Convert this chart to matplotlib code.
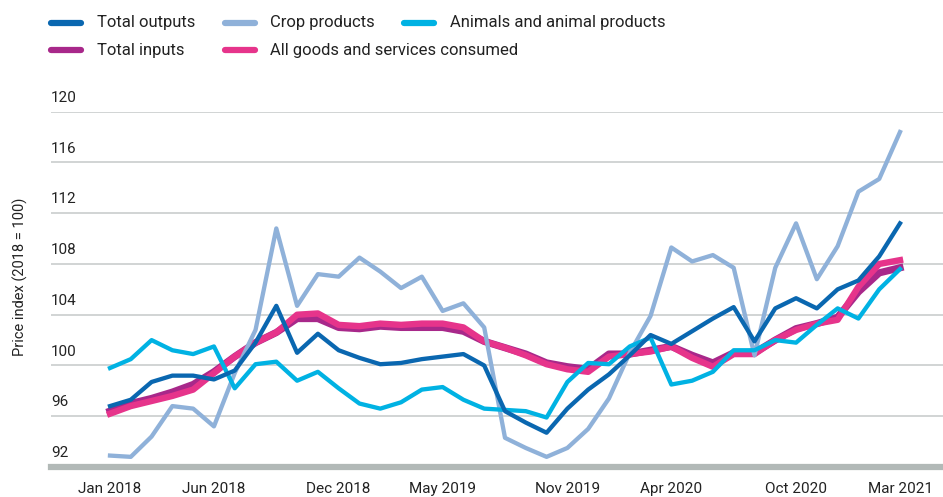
import matplotlib.pyplot as plt
import matplotlib.transforms as mtransforms
from matplotlib.lines import Line2D

plt.rcParams["font.family"] = ["Roboto", "DejaVu Sans"]

# monthly, Jan 2018 .. Mar 2021
n_months = 39
tick_idx = [0, 5, 11, 16, 22, 27, 33, 38]
tick_labels = ["Jan 2018", "Jun 2018", "Dec 2018", "May 2019",
               "Nov 2019", "Apr 2020", "Oct 2020", "Mar 2021"]

total_outputs = [96.8, 97.3, 98.7, 99.2, 99.2, 98.9, 99.6, 101.8, 104.7, 101.0,
                 102.5, 101.2, 100.6, 100.1, 100.2, 100.5, 100.7, 100.9, 100.0, 96.4,
                 95.5, 94.7, 96.6, 98.1, 99.3, 100.8, 102.4, 101.7, 102.7, 103.7,
                 104.6, 101.9, 104.5, 105.3, 104.5, 106.0, 106.7, 108.6, 111.2]
crop_products = [92.9, 92.8, 94.4, 96.8, 96.6, 95.2, 99.4, 102.8, 110.8, 104.7,
                 107.2, 107.0, 108.5, 107.4, 106.1, 107.0, 104.3, 104.9, 103.0, 94.3,
                 93.5, 92.8, 93.5, 95.0, 97.4, 101.0, 103.9, 109.3, 108.2, 108.7,
                 107.7, 100.8, 107.7, 111.2, 106.8, 109.4, 113.7, 114.7, 118.4]
animals = [99.8, 100.5, 102.0, 101.2, 100.9, 101.5, 98.2, 100.1, 100.3, 98.8,
           99.5, 98.2, 97.0, 96.6, 97.1, 98.1, 98.3, 97.3, 96.6, 96.5,
           96.4, 95.9, 98.7, 100.2, 100.1, 101.5, 102.2, 98.5, 98.8, 99.5,
           101.2, 101.2, 102.0, 101.8, 103.2, 104.5, 103.7, 106.0, 107.6]
total_inputs = [96.4, 97.0, 97.4, 97.9, 98.5, 99.5, 100.7, 101.8, 102.6, 103.7,
                103.7, 103.0, 102.9, 103.1, 103.0, 103.0, 103.0, 102.7, 101.9, 101.4,
                100.9, 100.2, 99.9, 99.7, 100.9, 100.9, 101.2, 101.5, 100.8, 100.2,
                101.0, 101.0, 102.0, 102.9, 103.3, 103.8, 105.8, 107.3, 107.7]
all_goods = [96.2, 96.8, 97.2, 97.6, 98.1, 99.4, 100.7, 101.8, 102.6, 104.0,
             104.1, 103.2, 103.1, 103.3, 103.2, 103.3, 103.3, 103.0, 101.9, 101.4,
             100.8, 100.1, 99.7, 99.5, 100.7, 100.9, 101.1, 101.5, 100.6, 99.9,
             100.9, 100.9, 102.0, 102.8, 103.3, 103.6, 106.2, 108.0, 108.3]

C_OUT = "#0a67b0"
C_CROP = "#8fb1d9"
C_ANIM = "#00b2e3"
C_INP = "#a8288a"
C_ALL = "#e6348b"

fig = plt.figure(figsize=(9.43, 4.97), dpi=100)
ax = fig.add_axes([51 / 943, 1 - 467 / 497, 892 / 943, (467 - 111.7) / 497])

x = list(range(n_months))
ax.plot(x, total_inputs, color=C_INP, lw=5.2, zorder=3)
ax.plot(x, all_goods, color=C_ALL, lw=4.6, zorder=3.1)
ax.plot(x, crop_products, color=C_CROP, lw=3.1, zorder=4)
ax.plot(x, animals, color=C_ANIM, lw=3.1, zorder=4.1)
ax.plot(x, total_outputs, color=C_OUT, lw=3.1, zorder=4.2)

px = 20.79
ax.set_xlim(-(110 - 51) / px, 38 + (943 - 900) / px)
ax.set_ylim(92, 120)

yticks = [92, 96, 100, 104, 108, 112, 116, 120]
for v in yticks[1:]:
    ax.axhline(v, color="#c9cdcd", lw=1.2, zorder=1)
ax.axhline(92, color="#b2b9b7", lw=4.5, zorder=2, clip_on=False)

ax.set_yticks([])
trans = mtransforms.blended_transform_factory(ax.transAxes, ax.transData)
for v in yticks:
    ax.annotate(str(v), xy=(0, v), xycoords=trans, xytext=(0, 5),
                textcoords="offset points", ha="left", va="bottom",
                fontsize=11, color="#222222")

ax.set_xticks(tick_idx)
ax.set_xticklabels(tick_labels, fontsize=11, color="#222222")
ax.tick_params(axis="x", length=0, pad=11)
for s in ax.spines.values():
    s.set_visible(False)

fig.text(20 / 943, 1 - 277 / 497, "Price index (2018 = 100)", rotation=90,
         ha="center", va="center", fontsize=10.5, color="#222222")

# legend drawn by hand to match the staggered layout
legend_items = [
    ("Total outputs", C_OUT, 49, 97, 23),
    ("Crop products", C_CROP, 223, 270, 23),
    ("Animals and animal products", C_ANIM, 402, 450, 23),
    ("Total inputs", C_INP, 49, 97, 50),
    ("All goods and services consumed", C_ALL, 223, 270, 50),
]
for label, color, sx, tx, ty in legend_items:
    yy = 1 - ty / 497
    fig.add_artist(Line2D([(sx + 2) / 943, (sx + 32) / 943], [yy, yy],
                          color=color, lw=4.5, solid_capstyle="round",
                          transform=fig.transFigure))
    fig.text(tx / 943, yy, label, ha="left", va="center", fontsize=12,
             color="#222222")

fig.savefig("out.png", dpi=100)
